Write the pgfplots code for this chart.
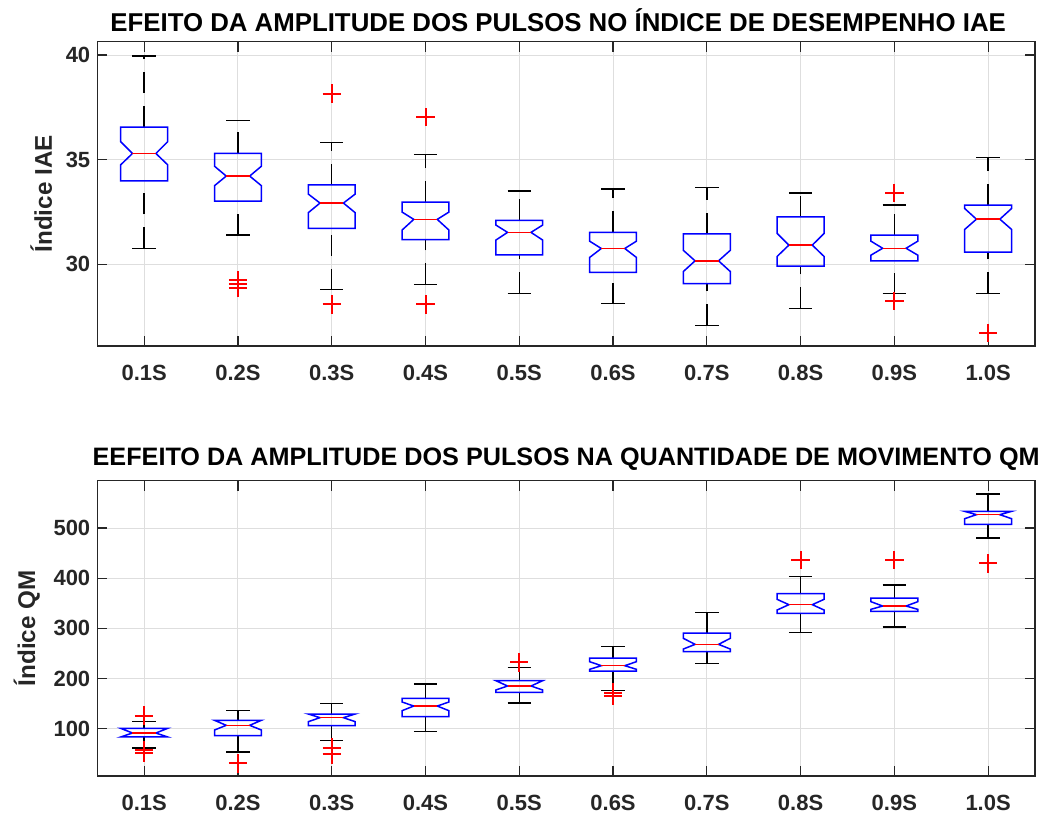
\documentclass[border=0pt]{standalone}
\usepackage{fontspec}
\setmainfont{Liberation Sans}
\usepackage{pgfplots}
\pgfplotsset{compat=1.18}
\definecolor{axgray}{gray}{0.15}
\definecolor{gridgray}{gray}{0.87}
\pgfplotsset{
  mybox/.style={
    scale only axis, width=468.85pt, anchor=south west,
    xmin=0.5, xmax=10.5,
    xtick={1,2,3,4,5,6,7,8,9,10},
    xticklabels={0.1S,0.2S,0.3S,0.4S,0.5S,0.6S,0.7S,0.8S,0.9S,1.0S},
    tick align=inside, major tick length=5pt,
    grid=major, major grid style={gridgray, line width=0.5pt},
    axis line style={axgray, line width=0.6pt},
    tick style={axgray, line width=0.6pt},
    /pgf/number format/assume math mode=true,
    ticklabel style={font=\bfseries\fontsize{11}{13}\selectfont, text=axgray},
    xticklabel style={yshift=-6pt},
    label style={font=\bfseries\fontsize{12.1}{14}\selectfont, text=axgray},
    clip=false,
  },
  boxst/.style={blue, line width=0.75pt, line join=miter, mark=none},
  medst/.style={red, line width=0.75pt, mark=none},
  whst/.style={black, line width=0.7pt, mark=none, dash pattern=on 10.5pt off 6.5pt},
  capst/.style={black, line width=0.7pt, mark=none},
  outst/.style={red, only marks, mark=+, mark size=4.6pt, line width=1pt},
}
% #1 x, #2 lower whisker, #3 Q1, #4 notch low, #5 median, #6 notch high, #7 Q3, #8 upper whisker
\newcommand{\nbox}[8]{%
  \pgfmathsetmacro\xa{#1-0.25}\pgfmathsetmacro\xb{#1-0.125}%
  \pgfmathsetmacro\xc{#1+0.125}\pgfmathsetmacro\xd{#1+0.25}%
  \addplot[whst] coordinates {(#1,#7) (#1,#8)};
  \addplot[whst] coordinates {(#1,#2) (#1,#3)};
  \addplot[capst] coordinates {(\xb,#8) (\xc,#8)};
  \addplot[capst] coordinates {(\xb,#2) (\xc,#2)};
  \addplot[boxst] coordinates {(\xa,#3) (\xd,#3) (\xd,#4) (\xc,#5) (\xd,#6) (\xd,#7) (\xa,#7) (\xa,#6) (\xb,#5) (\xa,#4) (\xa,#3) (\xd,#3)};
  \addplot[medst] coordinates {(\xb,#5) (\xc,#5)};
}
\begin{document}
\begin{tikzpicture}
\path[use as bounding box] (0,0) rectangle (523.5pt,408pt);
\begin{axis}[mybox, at={(48.65pt,235pt)}, height=152.15pt,
  ymin=26.1, ymax=40.64, ytick={30,35,40},
  ylabel={Índice IAE},
  title style={font=\bfseries\fontsize{12.9}{15}\selectfont, yshift=-4.8pt, xshift=-4pt},
  title={EFEITO DA AMPLITUDE DOS PULSOS NO ÍNDICE DE DESEMPENHO IAE}]
\nbox{1}{30.76}{33.99}{34.76}{35.30}{35.86}{36.56}{39.96}
\nbox{2}{31.40}{33.02}{33.76}{34.22}{34.69}{35.30}{36.88}
\nbox{3}{28.79}{31.72}{32.47}{32.93}{33.36}{33.80}{35.82}
\nbox{4}{29.04}{31.18}{31.64}{32.15}{32.50}{32.98}{35.25}
\nbox{5}{28.61}{30.46}{31.16}{31.53}{31.88}{32.10}{33.50}
\nbox{6}{28.12}{29.62}{30.33}{30.76}{31.11}{31.53}{33.61}
\nbox{7}{27.09}{29.08}{29.66}{30.17}{30.67}{31.46}{33.66}
\nbox{8}{27.90}{29.92}{30.38}{30.92}{31.48}{32.27}{33.42}
\nbox{9}{28.60}{30.17}{30.44}{30.77}{31.11}{31.40}{32.83}
\nbox{10}{28.61}{30.59}{31.67}{32.16}{32.67}{32.83}{35.12}
\addplot[outst] coordinates {(2,29.25) (2,29.05) (2,28.88) (3,38.16) (3,28.09) (4,37.03) (4,28.09) (9,33.42) (9,28.26) (10,26.73)};
\end{axis}
\begin{axis}[mybox, at={(48.65pt,20pt)}, height=147.65pt,
  ymin=5.7, ymax=594.3, ytick={100,200,300,400,500},
  ylabel={Índice QM},
  title style={font=\bfseries\fontsize{12.6}{15}\selectfont, yshift=-4.5pt},
  title={EEFEITO DA AMPLITUDE DOS PULSOS NA QUANTIDADE DE MOVIMENTO QM}]
\nbox{1}{61.5}{83.5}{83.5}{91.4}{100.7}{100.7}{114}
\nbox{2}{53.6}{86.1}{97.4}{106.7}{116.7}{116.7}{136.6}
\nbox{3}{76.1}{106}{114}{122}{129.3}{129.3}{149.9}
\nbox{4}{94.1}{124}{135.9}{145.2}{153.2}{160.5}{189.1}
\nbox{5}{151.2}{172.5}{177.1}{185.1}{195.7}{195.7}{222.3}
\nbox{6}{175.8}{215}{218.3}{225.6}{233.6}{240.9}{264.2}
\nbox{7}{229.6}{253.5}{258.8}{268.1}{280.1}{290.7}{331.9}
\nbox{8}{291.4}{329.9}{336.6}{347.2}{357.8}{369.1}{403.7}
\nbox{9}{302.7}{333.9}{337.9}{344.5}{353.2}{360.5}{386.4}
\nbox{10}{480.1}{507.3}{518.6}{526.6}{533.2}{533.2}{567.8}
\addplot[outst] coordinates {(1,126) (1,57.5) (1,52.2) (2,31) (3,62.2) (3,48.9) (5,232.3) (6,171.8) (6,165.2) (8,436.2) (9,436.2) (10,429.6)};
\end{axis}
\end{tikzpicture}
\end{document}
